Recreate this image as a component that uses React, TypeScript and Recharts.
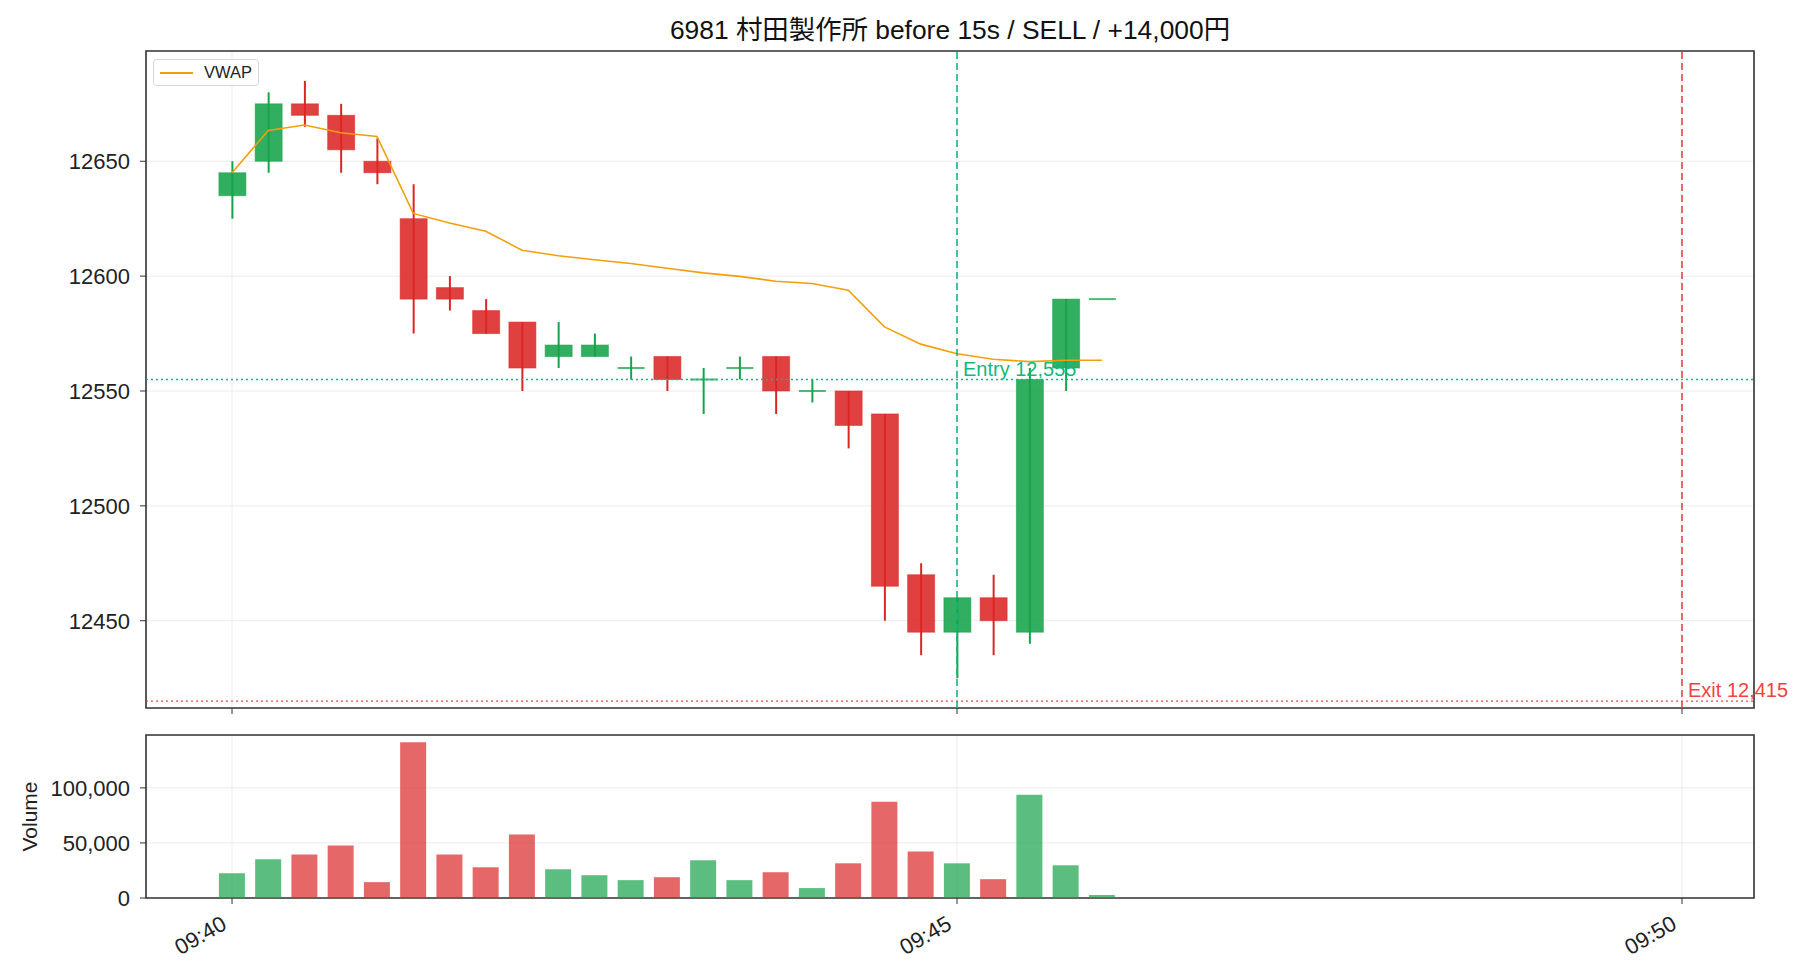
import {
  ComposedChart, Bar, Line, XAxis, YAxis, CartesianGrid, ReferenceLine,
  ReferenceDot, ReferenceArea, Legend, Cell,
} from 'recharts';

const TITLE = '6981 村田製作所 before 15s / SELL / +14,000円';

const TIMES = [
  '09:40:00', '09:40:15', '09:40:30', '09:40:45', '09:41:00', '09:41:15', '09:41:30',
  '09:41:45', '09:42:00', '09:42:15', '09:42:30', '09:42:45', '09:43:00', '09:43:15',
  '09:43:30', '09:43:45', '09:44:00', '09:44:15', '09:44:30', '09:44:45', '09:45:00',
  '09:45:15', '09:45:30', '09:45:45', '09:46:00',
];
const OPEN = [12635, 12650, 12675, 12670, 12650, 12625, 12595, 12585, 12580, 12565, 12565, 12560, 12565, 12555, 12560, 12565, 12550, 12550, 12540, 12470, 12445, 12460, 12445, 12560, 12590];
const HIGH = [12650, 12680, 12685, 12675, 12660, 12640, 12600, 12590, 12580, 12580, 12575, 12565, 12565, 12560, 12565, 12565, 12555, 12550, 12540, 12475, 12460, 12470, 12560, 12590, 12590];
const LOW = [12625, 12645, 12665, 12645, 12640, 12575, 12585, 12575, 12550, 12560, 12565, 12555, 12550, 12540, 12555, 12540, 12545, 12525, 12450, 12435, 12425, 12435, 12440, 12550, 12590];
const CLOSE = [12645, 12675, 12670, 12655, 12645, 12590, 12590, 12575, 12560, 12570, 12570, 12560, 12555, 12555, 12560, 12550, 12550, 12535, 12465, 12445, 12460, 12450, 12555, 12590, 12590];
const VWAP = [12645, 12663.4, 12665.8, 12662.4, 12660.8, 12627.3, 12623.1, 12619.5, 12611.3, 12608.9, 12607.1, 12605.5, 12603.4, 12601.4, 12599.9, 12597.8, 12596.8, 12593.9, 12577.9, 12570.4, 12566.2, 12563.8, 12562.8, 12563.4, 12563.4];
const VOLUME = [22500, 35100, 39600, 47700, 14400, 141400, 39600, 27900, 57700, 26100, 20700, 16200, 18900, 34200, 16200, 23400, 9000, 31500, 87400, 42300, 31500, 17100, 93700, 29700, 2700];

const X_TICKS = ['09:40:00', '09:45:00', '09:50:00'];
const PRICE_TICKS = [12450, 12500, 12550, 12600, 12650];
const VOLUME_TICKS = [0, 50000, 100000];

const ENTRY_TIME = '09:45:00';
const ENTRY_PRICE = 12555;
const EXIT_TIME = '09:50:00';
const EXIT_PRICE = 12415;

const FONT = '"Liberation Sans", "Noto Sans CJK JP", sans-serif';
const UP = '#16a34a';
const DOWN = '#dc2626';
const ENTRY_COLOR = '#10b981';
const EXIT_COLOR = '#ef4444';
const VWAP_COLOR = '#f59e0b';
const GRID = '#ebebeb';
const SPINE = '#333';

// seconds after 09:40:00
const toSec = (t: string) => {
  const [h, m, s] = t.split(':').map(Number);
  return h * 3600 + m * 60 + s - (9 * 3600 + 40 * 60);
};
const fmtTime = (v: number) => {
  const total = 9 * 3600 + 40 * 60 + v;
  const h = Math.floor(total / 3600);
  const m = Math.floor((total % 3600) / 60);
  return `${String(h).padStart(2, '0')}:${String(m).padStart(2, '0')}`;
};

const X_DOMAIN: [number, number] = [-35.6, 629.8];
const PRICE_DOMAIN: [number, number] = [12412, 12698];
const VOLUME_DOMAIN: [number, number] = [0, 148000];

const rows = TIMES.map((t, i) => ({
  t: toSec(t),
  open: OPEN[i],
  high: HIGH[i],
  low: LOW[i],
  close: CLOSE[i],
  vwap: VWAP[i],
  volume: VOLUME[i],
}));

function Candle(props: any) {
  const { x, y, width, height, payload } = props;
  if (!payload || x == null || y == null) return null;
  const { open, close, high, low } = payload;
  const top = Math.min(y, y + (height || 0));
  const h = Math.abs(height || 0);
  const py = (v: number) => (high === low ? top : top + ((high - v) / (high - low)) * h);
  const color = close >= open ? UP : DOWN;
  const cx = x + width / 2;
  const bt = py(Math.max(open, close));
  const bb = py(Math.min(open, close));
  return (
    <g>
      {h > 0 && <line x1={cx} x2={cx} y1={top} y2={top + h} stroke={color} strokeWidth={2} />}
      {bb - bt < 0.5 ? (
        <line x1={x} x2={x + width} y1={bt} y2={bt} stroke={color} strokeOpacity={0.75} strokeWidth={2} />
      ) : (
        <rect x={x} y={bt} width={width} height={bb - bt} fill={color} fillOpacity={0.88}
          stroke={color} strokeOpacity={0.55} strokeWidth={1} />
      )}
    </g>
  );
}

const VwapLegend = () => (
  <div style={{
    display: 'flex', alignItems: 'center', boxSizing: 'border-box', width: 106, height: 27,
    border: '1.5px solid #d6d6d6', borderRadius: 4, background: 'rgba(255,255,255,0.85)',
    paddingLeft: 6, fontFamily: FONT, fontSize: 16.5, color: '#222',
  }}>
    <span style={{ display: 'inline-block', width: 33, borderTop: `2px solid ${VWAP_COLOR}`, marginRight: 11 }} />
    VWAP
  </div>
);

const TimeTick = ({ x, y, payload }: any) => (
  <text x={x - 4} y={y + 24} transform={`rotate(-30, ${x - 4}, ${y + 24})`} textAnchor="end"
    fontSize={22} fill="#222" fontFamily={FONT}>
    {fmtTime(payload.value)}
  </text>
);

const VolumeLabel = ({ viewBox }: any) => {
  const cy = viewBox && viewBox.height ? viewBox.y + viewBox.height / 2 : 97;
  return (
    <text x={29} y={cy} transform={`rotate(-90, 29, ${cy})`} textAnchor="middle"
      dominantBaseline="central" fontSize={21} fill="#222" fontFamily={FONT}>
      Volume
    </text>
  );
};

const tickStyle = { fontSize: 22, fill: '#222', fontFamily: FONT };

export default function App() {
  const xTicks = X_TICKS.map(toSec);
  return (
    <div style={{ position: 'absolute', left: 0, top: 0, width: 1820, height: 980, background: '#fff' }}>
      <div style={{
        position: 'absolute', left: 146, top: 17, width: 1608, textAlign: 'center',
        fontFamily: FONT, fontSize: 26.4, lineHeight: '27px', color: '#111',
      }}>
        {TITLE}
      </div>

      <div style={{ position: 'absolute', left: 0, top: 0 }}>
        <ComposedChart width={1820} height={720} data={rows}
          margin={{ top: 51, right: 66, bottom: 0, left: 46 }}>
          <CartesianGrid stroke={GRID} strokeWidth={1} />
          <XAxis dataKey="t" type="number" domain={X_DOMAIN} ticks={xTicks} allowDataOverflow
            height={12} axisLine={false} tickSize={6} tickLine={{ stroke: SPINE }} tickFormatter={() => ''} />
          <YAxis type="number" domain={PRICE_DOMAIN} ticks={PRICE_TICKS} allowDataOverflow width={100}
            axisLine={false} tickSize={6} tickMargin={10} tickLine={{ stroke: SPINE }} tick={tickStyle} />
          <Legend verticalAlign="middle" align="center" layout="horizontal" content={VwapLegend}
            wrapperStyle={{ left: 153, top: 59, width: 106, height: 27 }} />
          <Bar dataKey={(d: any) => [d.low, d.high]} barSize={27} shape={Candle} isAnimationActive={false}
            legendType="none" />
          <Line dataKey="vwap" name="VWAP" stroke={VWAP_COLOR} strokeWidth={1.6} dot={false}
            activeDot={false} isAnimationActive={false} type="linear" />
          <ReferenceLine y={ENTRY_PRICE} stroke={ENTRY_COLOR} strokeWidth={1.5} strokeDasharray="2 3" />
          <ReferenceLine y={EXIT_PRICE} stroke={EXIT_COLOR} strokeWidth={1.2} strokeDasharray="2 3" />
          <ReferenceLine x={toSec(ENTRY_TIME)} stroke={ENTRY_COLOR} strokeWidth={1.6} strokeDasharray="7 4" />
          <ReferenceLine x={toSec(EXIT_TIME)} stroke={EXIT_COLOR} strokeWidth={1.6} strokeDasharray="7 4" />
          <ReferenceDot x={toSec(ENTRY_TIME)} y={ENTRY_PRICE} r={0} fill="none" stroke="none"
            label={({ viewBox }: any) => (
              <text x={viewBox.x + 6} y={viewBox.y - 4} fill={ENTRY_COLOR} fontSize={20} fontFamily={FONT}>
                {`Entry ${ENTRY_PRICE.toLocaleString('en-US')}`}
              </text>
            )} />
          <ReferenceDot x={toSec(EXIT_TIME)} y={EXIT_PRICE} r={0} fill="none" stroke="none"
            label={({ viewBox }: any) => (
              <text x={viewBox.x + 6} y={viewBox.y - 4} fill={EXIT_COLOR} fontSize={20} fontFamily={FONT}>
                {`Exit ${EXIT_PRICE.toLocaleString('en-US')}`}
              </text>
            )} />
          <ReferenceArea x1={X_DOMAIN[0]} x2={X_DOMAIN[1]} y1={PRICE_DOMAIN[0]} y2={PRICE_DOMAIN[1]}
            fill="none" stroke={SPINE} strokeWidth={1.6} />
        </ComposedChart>
      </div>

      <div style={{ position: 'absolute', left: 0, top: 720 }}>
        <ComposedChart width={1820} height={260} data={rows}
          margin={{ top: 15, right: 66, bottom: 0, left: 46 }}>
          <CartesianGrid stroke={GRID} strokeWidth={1} />
          <XAxis dataKey="t" type="number" domain={X_DOMAIN} ticks={xTicks} allowDataOverflow
            height={82} axisLine={false} tickSize={6} tickMargin={0} tickLine={{ stroke: SPINE }}
            tick={TimeTick} />
          <YAxis type="number" domain={VOLUME_DOMAIN} ticks={VOLUME_TICKS} allowDataOverflow width={100}
            axisLine={false} tickSize={6} tickMargin={10} tickLine={{ stroke: SPINE }} tick={tickStyle}
            tickFormatter={(v: number) => v.toLocaleString('en-US')} label={VolumeLabel} />
          <Bar dataKey="volume" barSize={26} isAnimationActive={false}>
            {rows.map((r, i) => (
              <Cell key={i} fill={r.close >= r.open ? UP : DOWN} fillOpacity={0.7} />
            ))}
          </Bar>
          <ReferenceArea x1={X_DOMAIN[0]} x2={X_DOMAIN[1]} y1={VOLUME_DOMAIN[0]} y2={VOLUME_DOMAIN[1]}
            fill="none" stroke={SPINE} strokeWidth={1.6} />
        </ComposedChart>
      </div>
    </div>
  );
}
